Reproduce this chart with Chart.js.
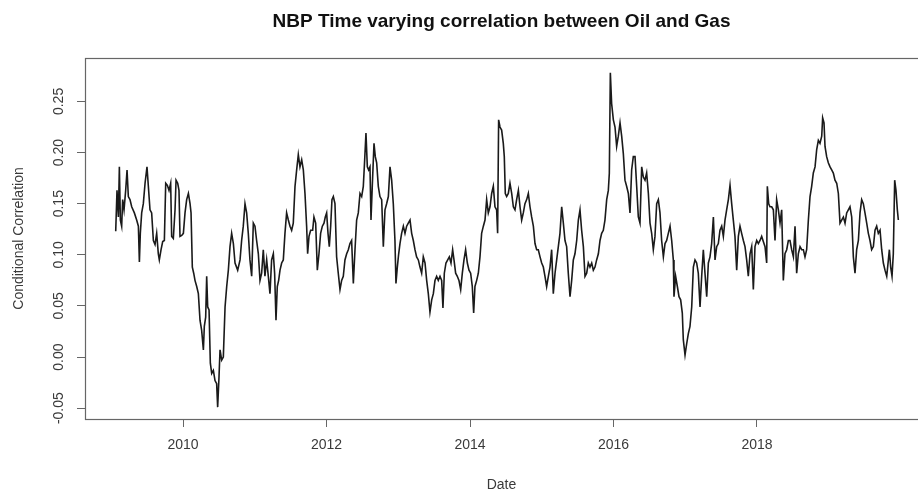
<!DOCTYPE html>
<html>
<head>
<meta charset="utf-8">
<title>NBP Time varying correlation between Oil and Gas</title>
<script src="https://cdn.jsdelivr.net/npm/chart.js@4.4.1/dist/chart.umd.min.js"></script>
<style>
  html, body { margin: 0; padding: 0; background: #fff; overflow: hidden; }
  canvas { display: block; }
</style>
</head>
<body>
<canvas id="corrChart" width="918" height="496"></canvas>
<script>
// Dates as decimal years, one line per calendar year
const dates = [
    2009.062, 2009.080, 2009.099, 2009.113, 2009.127, 2009.145, 2009.159, 2009.178, 2009.201, 2009.220, 2009.238, 2009.261, 2009.285, 2009.322, 2009.354, 2009.378, 2009.392, 2009.405, 2009.424, 2009.447, 2009.471, 2009.498, 2009.517, 2009.540, 2009.563, 2009.587, 2009.610, 2009.633, 2009.656, 2009.670, 2009.694, 2009.717, 2009.740, 2009.759, 2009.782, 2009.805, 2009.828, 2009.842, 2009.865, 2009.889, 2009.903, 2009.926, 2009.944, 2009.958, 2009.982,
    2010.005, 2010.028, 2010.051, 2010.075, 2010.098, 2010.112, 2010.130, 2010.149, 2010.167, 2010.191, 2010.214, 2010.237, 2010.260, 2010.284, 2010.297, 2010.316, 2010.330, 2010.344, 2010.363, 2010.381, 2010.400, 2010.423, 2010.446, 2010.469, 2010.483, 2010.502, 2010.516, 2010.539, 2010.562, 2010.586, 2010.609, 2010.632, 2010.655, 2010.678, 2010.702, 2010.725, 2010.762, 2010.795, 2010.817, 2010.840, 2010.864, 2010.887, 2010.910, 2010.933, 2010.957, 2010.980,
    2011.003, 2011.026, 2011.050, 2011.073, 2011.096, 2011.119, 2011.142, 2011.166, 2011.189, 2011.212, 2011.235, 2011.259, 2011.277, 2011.296, 2011.314, 2011.333, 2011.352, 2011.375, 2011.398, 2011.421, 2011.444, 2011.468, 2011.491, 2011.514, 2011.537, 2011.561, 2011.584, 2011.607, 2011.630, 2011.654, 2011.677, 2011.700, 2011.723, 2011.737, 2011.756, 2011.779, 2011.807, 2011.825, 2011.849, 2011.872, 2011.895, 2011.918, 2011.942, 2011.965, 2011.983,
    2012.002, 2012.021, 2012.039, 2012.058, 2012.076, 2012.095, 2012.118, 2012.141, 2012.164, 2012.188, 2012.211, 2012.234, 2012.257, 2012.281, 2012.304, 2012.327, 2012.350, 2012.374, 2012.397, 2012.420, 2012.443, 2012.467, 2012.490, 2012.513, 2012.532, 2012.550, 2012.569, 2012.587, 2012.606, 2012.620, 2012.638, 2012.662, 2012.680, 2012.699, 2012.722, 2012.745, 2012.769, 2012.792, 2012.815, 2012.838, 2012.862, 2012.885, 2012.908, 2012.931, 2012.954, 2012.968, 2012.987,
    2013.006, 2013.024, 2013.047, 2013.071, 2013.094, 2013.117, 2013.140, 2013.164, 2013.187, 2013.210, 2013.233, 2013.256, 2013.280, 2013.303, 2013.326, 2013.349, 2013.373, 2013.396, 2013.419, 2013.442, 2013.466, 2013.489, 2013.512, 2013.535, 2013.558, 2013.582, 2013.605, 2013.623, 2013.642, 2013.665, 2013.689, 2013.712, 2013.735, 2013.758, 2013.777, 2013.800, 2013.823, 2013.846, 2013.870, 2013.893, 2013.916, 2013.939, 2013.963, 2013.986,
    2014.009, 2014.032, 2014.051, 2014.069, 2014.093, 2014.116, 2014.139, 2014.162, 2014.186, 2014.209, 2014.232, 2014.255, 2014.279, 2014.302, 2014.325, 2014.348, 2014.371, 2014.385, 2014.399, 2014.418, 2014.441, 2014.464, 2014.478, 2014.492, 2014.511, 2014.534, 2014.557, 2014.581, 2014.604, 2014.627, 2014.650, 2014.674, 2014.697, 2014.720, 2014.743, 2014.766, 2014.790, 2014.813, 2014.836, 2014.859, 2014.883, 2014.906, 2014.929, 2014.952, 2014.976, 2014.999,
    2015.022, 2015.045, 2015.068, 2015.092, 2015.115, 2015.138, 2015.161, 2015.185, 2015.208, 2015.231, 2015.254, 2015.278, 2015.301, 2015.324, 2015.347, 2015.370, 2015.394, 2015.417, 2015.440, 2015.463, 2015.487, 2015.510, 2015.533, 2015.556, 2015.580, 2015.603, 2015.626, 2015.649, 2015.672, 2015.696, 2015.719, 2015.742, 2015.765, 2015.789, 2015.812, 2015.835, 2015.858, 2015.881, 2015.905, 2015.928, 2015.942, 2015.956, 2015.974, 2015.998,
    2016.021, 2016.044, 2016.067, 2016.091, 2016.114, 2016.137, 2016.160, 2016.183, 2016.207, 2016.230, 2016.253, 2016.276, 2016.300, 2016.323, 2016.346, 2016.369, 2016.393, 2016.416, 2016.439, 2016.462, 2016.486, 2016.509, 2016.532, 2016.555, 2016.578, 2016.602, 2016.625, 2016.648, 2016.671, 2016.695, 2016.718, 2016.741, 2016.764, 2016.788, 2016.811, 2016.834, 2016.843, 2016.866, 2016.890, 2016.913, 2016.936, 2016.959, 2016.973, 2016.997,
    2017.020, 2017.043, 2017.066, 2017.090, 2017.113, 2017.136, 2017.159, 2017.182, 2017.206, 2017.229, 2017.252, 2017.275, 2017.299, 2017.322, 2017.345, 2017.368, 2017.392, 2017.415, 2017.438, 2017.461, 2017.484, 2017.508, 2017.531, 2017.554, 2017.577, 2017.601, 2017.624, 2017.647, 2017.670, 2017.693, 2017.717, 2017.740, 2017.763, 2017.786, 2017.810, 2017.833, 2017.856, 2017.879, 2017.903, 2017.926, 2017.949, 2017.972, 2017.996,
    2018.019, 2018.042, 2018.065, 2018.088, 2018.112, 2018.135, 2018.144, 2018.163, 2018.181, 2018.205, 2018.228, 2018.251, 2018.274, 2018.298, 2018.321, 2018.344, 2018.367, 2018.390, 2018.414, 2018.437, 2018.460, 2018.483, 2018.507, 2018.530, 2018.553, 2018.576, 2018.600, 2018.623, 2018.646, 2018.669, 2018.692, 2018.716, 2018.739, 2018.762, 2018.785, 2018.809, 2018.832, 2018.855, 2018.878, 2018.902, 2018.915, 2018.934, 2018.948, 2018.971, 2018.994,
    2019.018, 2019.041, 2019.064, 2019.087, 2019.111, 2019.134, 2019.157, 2019.180, 2019.204, 2019.227, 2019.250, 2019.273, 2019.296, 2019.320, 2019.343, 2019.366, 2019.389, 2019.413, 2019.436, 2019.459, 2019.482, 2019.505, 2019.529, 2019.552, 2019.575, 2019.598, 2019.622, 2019.645, 2019.668, 2019.691, 2019.715, 2019.738, 2019.761, 2019.784, 2019.808, 2019.831, 2019.845, 2019.863, 2019.882, 2019.900, 2019.919, 2019.937, 2019.956, 2019.970
];

// Conditional correlation, same lines as above
const corr = [
    0.123, 0.163, 0.137, 0.186, 0.134, 0.128, 0.154, 0.144, 0.163, 0.183, 0.157, 0.154, 0.147, 0.141, 0.134, 0.128, 0.093, 0.121, 0.141, 0.150, 0.170, 0.186, 0.167, 0.144, 0.141, 0.114, 0.110, 0.121, 0.101, 0.095, 0.105, 0.113, 0.114, 0.170, 0.168, 0.163, 0.170, 0.118, 0.116, 0.144, 0.173, 0.170, 0.163, 0.118, 0.119,
    0.121, 0.141, 0.154, 0.160, 0.150, 0.141, 0.088, 0.082, 0.075, 0.069, 0.062, 0.036, 0.026, 0.007, 0.030, 0.039, 0.079, 0.049, 0.046, -0.006, -0.016, -0.013, -0.023, -0.026, -0.049, -0.019, 0.007, -0.003, 0.000, 0.049, 0.069, 0.085, 0.108, 0.121, 0.111, 0.092, 0.085, 0.095, 0.114, 0.128, 0.150, 0.141, 0.121, 0.095, 0.079, 0.131,
    0.128, 0.114, 0.101, 0.075, 0.082, 0.105, 0.079, 0.095, 0.079, 0.062, 0.095, 0.101, 0.082, 0.036, 0.069, 0.075, 0.085, 0.092, 0.095, 0.121, 0.141, 0.134, 0.128, 0.124, 0.131, 0.167, 0.183, 0.198, 0.186, 0.193, 0.183, 0.160, 0.128, 0.101, 0.118, 0.124, 0.124, 0.137, 0.131, 0.085, 0.101, 0.121, 0.128, 0.131, 0.137,
    0.141, 0.121, 0.108, 0.128, 0.154, 0.157, 0.150, 0.098, 0.082, 0.066, 0.075, 0.079, 0.095, 0.101, 0.105, 0.111, 0.114, 0.072, 0.105, 0.134, 0.141, 0.160, 0.157, 0.167, 0.193, 0.219, 0.186, 0.183, 0.186, 0.134, 0.167, 0.209, 0.196, 0.190, 0.167, 0.157, 0.154, 0.108, 0.144, 0.150, 0.157, 0.186, 0.173, 0.150, 0.114, 0.072, 0.088,
    0.101, 0.111, 0.121, 0.128, 0.121, 0.128, 0.131, 0.134, 0.121, 0.114, 0.105, 0.098, 0.095, 0.088, 0.082, 0.098, 0.092, 0.075, 0.062, 0.044, 0.056, 0.062, 0.075, 0.079, 0.075, 0.079, 0.075, 0.048, 0.082, 0.092, 0.095, 0.098, 0.092, 0.105, 0.095, 0.082, 0.079, 0.075, 0.066, 0.082, 0.095, 0.105, 0.092, 0.085,
    0.082, 0.069, 0.043, 0.069, 0.075, 0.082, 0.098, 0.121, 0.128, 0.134, 0.154, 0.141, 0.147, 0.160, 0.167, 0.147, 0.144, 0.121, 0.232, 0.225, 0.222, 0.209, 0.196, 0.160, 0.157, 0.160, 0.170, 0.160, 0.147, 0.144, 0.154, 0.163, 0.147, 0.134, 0.141, 0.150, 0.154, 0.160, 0.147, 0.137, 0.128, 0.111, 0.105, 0.105, 0.098, 0.092,
    0.088, 0.079, 0.069, 0.079, 0.088, 0.105, 0.062, 0.082, 0.095, 0.108, 0.121, 0.147, 0.131, 0.114, 0.108, 0.082, 0.059, 0.075, 0.095, 0.101, 0.114, 0.134, 0.144, 0.124, 0.108, 0.079, 0.082, 0.092, 0.088, 0.092, 0.085, 0.088, 0.095, 0.101, 0.114, 0.121, 0.124, 0.134, 0.154, 0.163, 0.180, 0.278, 0.248, 0.232,
    0.225, 0.206, 0.216, 0.229, 0.216, 0.199, 0.173, 0.167, 0.160, 0.141, 0.183, 0.196, 0.196, 0.167, 0.137, 0.131, 0.186, 0.176, 0.173, 0.180, 0.160, 0.131, 0.121, 0.105, 0.118, 0.150, 0.154, 0.141, 0.114, 0.098, 0.111, 0.114, 0.121, 0.128, 0.114, 0.095, 0.059, 0.079, 0.069, 0.059, 0.056, 0.043, 0.017, 0.002,
    0.013, 0.023, 0.030, 0.049, 0.088, 0.095, 0.092, 0.082, 0.049, 0.079, 0.105, 0.082, 0.059, 0.092, 0.098, 0.111, 0.137, 0.095, 0.108, 0.111, 0.124, 0.128, 0.118, 0.134, 0.144, 0.154, 0.168, 0.150, 0.134, 0.118, 0.085, 0.118, 0.128, 0.121, 0.114, 0.108, 0.095, 0.079, 0.101, 0.108, 0.066, 0.108, 0.114,
    0.111, 0.114, 0.118, 0.113, 0.108, 0.092, 0.167, 0.150, 0.147, 0.147, 0.144, 0.114, 0.154, 0.144, 0.131, 0.144, 0.075, 0.101, 0.105, 0.114, 0.114, 0.105, 0.098, 0.128, 0.082, 0.101, 0.108, 0.105, 0.105, 0.098, 0.105, 0.134, 0.157, 0.167, 0.180, 0.186, 0.203, 0.212, 0.209, 0.216, 0.234, 0.229, 0.206, 0.196, 0.190,
    0.186, 0.183, 0.180, 0.173, 0.170, 0.160, 0.131, 0.134, 0.137, 0.131, 0.141, 0.144, 0.147, 0.137, 0.098, 0.082, 0.105, 0.114, 0.141, 0.154, 0.150, 0.141, 0.131, 0.121, 0.114, 0.105, 0.108, 0.124, 0.128, 0.121, 0.124, 0.105, 0.092, 0.085, 0.079, 0.095, 0.105, 0.088, 0.079, 0.101, 0.173, 0.163, 0.144, 0.134
];

const xTicks = [2010, 2012, 2014, 2016, 2018];
const yTicks = [-0.05, 0, 0.05, 0.10, 0.15, 0.20, 0.25];

const chartTitle = 'NBP Time varying correlation between Oil and Gas';
const xLabel = 'Date';
const yLabel = 'Conditional Correlation';

Chart.defaults.font.family = "'Liberation Sans', Arial, sans-serif";
Chart.defaults.color = '#3a3a3a';

// R draws a box round the plot region; right side falls off the picture
const plotBox = {
    id: 'plotBox',
    afterDraw(chart) {
        const { ctx, chartArea } = chart;
        ctx.save();
        ctx.strokeStyle = '#666666';
        ctx.lineWidth = 1.2;
        ctx.strokeRect(Math.round(chartArea.left) + 0.5, Math.round(chartArea.top) + 0.5,
            chartArea.right - chartArea.left + 20, Math.round(chartArea.bottom - chartArea.top));
        ctx.restore();
    }
};

const points = dates.map((d, i) => ({ x: d, y: corr[i] }));

const corrCtx = document.getElementById('corrChart').getContext('2d');
const corrChart = new Chart(corrCtx, {
    type: 'line',
    data: {
        datasets: [{
            label: 'Conditional Correlation',
            data: points,
            borderColor: '#1a1a1a',
            borderWidth: 1.6,
            pointRadius: 0,
            tension: 0,
            fill: false
        }]
    },
    options: {
        responsive: false,
        animation: false,
        layout: { padding: 0 },
        plugins: {
            legend: { display: false },
            tooltip: { enabled: false },
            title: {
                display: true,
                text: chartTitle,
                fullSize: false,
                color: '#111111',
                font: { size: 19, weight: 'bold' },
                padding: { top: 10, bottom: 25.2 }
            }
        },
        scales: {
            x: {
                type: 'linear',
                min: 2008.634,
                max: 2020.244,
                afterBuildTicks: axis => { axis.ticks = xTicks.map(v => ({ value: v })); },
                afterFit: axis => { axis.height = 77; },
                border: { display: false },
                grid: {
                    drawOnChartArea: false,
                    drawTicks: true,
                    tickLength: 8,
                    color: '#666666'
                },
                ticks: {
                    font: { size: 14 },
                    padding: 10,
                    maxRotation: 0,
                    autoSkip: false,
                    callback: value => String(value)
                },
                title: {
                    display: true,
                    text: xLabel,
                    font: { size: 14 },
                    padding: { top: 0, bottom: 2 }
                }
            },
            y: {
                type: 'linear',
                min: -0.0606,
                max: 0.2925,
                afterBuildTicks: axis => { axis.ticks = yTicks.map(v => ({ value: v })); },
                afterFit: axis => { axis.width = 85; },
                border: { display: false },
                grid: {
                    drawOnChartArea: false,
                    drawTicks: true,
                    tickLength: 8,
                    color: '#666666'
                },
                ticks: {
                    font: { size: 14 },
                    padding: 2,
                    minRotation: 90,
                    maxRotation: 90,
                    crossAlign: 'center',
                    autoSkip: false,
                    callback: value => value.toFixed(2)
                },
                title: {
                    display: true,
                    text: yLabel,
                    font: { size: 14 },
                    padding: { top: 10.5, bottom: 0 }
                }
            }
        }
    },
    plugins: [plotBox]
});
</script>
</body>
</html>
